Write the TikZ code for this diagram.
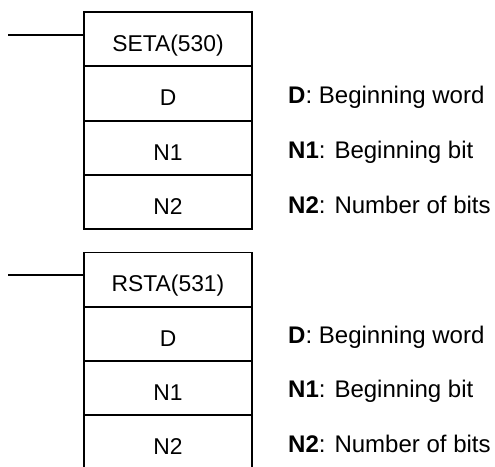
\documentclass[tikz,border=0pt]{standalone}
\usepackage{fontspec}
\setmainfont{Liberation Sans}
\usepackage{tikz}
\usetikzlibrary{positioning}
\tikzset{
  cell/.style={draw, line width=1.6pt, minimum width=5.04cm, minimum height=1.62cm, inner sep=0pt,
    text height=21pt, text depth=0pt, font=\fontsize{19.5}{23}\selectfont},
  desc/.style={anchor=base west, inner sep=0pt, font=\fontsize{20.5}{24}\selectfont},
  rung/.style={line width=1.1pt}
}
\begin{document}
\begin{tikzpicture}[x=0.03cm, y=-0.03cm]
  \useasboundingbox (0,0) rectangle (495,466);
  % SETA(530)
  \node[cell] (seta) at (168,39) {SETA(530)};
  \node[cell] (setaD) at (168,93.5) {D};
  \node[cell] (setaNa) at (168,148) {N1};
  \node[cell] (setaNb) at (168,202) {N2};
  \coordinate (inseta) at (8,35);
  \draw[rung] (inseta) -- (inseta -| seta.west);
  \node[desc] (descsetaD) at (288,103) {\textbf{D}: Beginning word};
  \node[desc] (descsetaNa) at (288,158) {\textbf{N1}: Beginning bit};
  \node[desc] (descsetaNb) at (288,213) {\textbf{N2}: Number of bits};
  % RSTA(531)
  \node[cell] (rsta) at (168,279.5) {RSTA(531)};
  \node[cell] (rstaD) at (168,334) {D};
  \node[cell] (rstaNa) at (168,388) {N1};
  \node[cell] (rstaNb) at (168,442) {N2};
  \coordinate (inrsta) at (8,275);
  \draw[rung] (inrsta) -- (inrsta -| rsta.west);
  \node[desc] (descrstaD) at (288,343) {\textbf{D}: Beginning word};
  \node[desc] (descrstaNa) at (288,397) {\textbf{N1}: Beginning bit};
  \node[desc] (descrstaNb) at (288,452) {\textbf{N2}: Number of bits};
\end{tikzpicture}
\end{document}
